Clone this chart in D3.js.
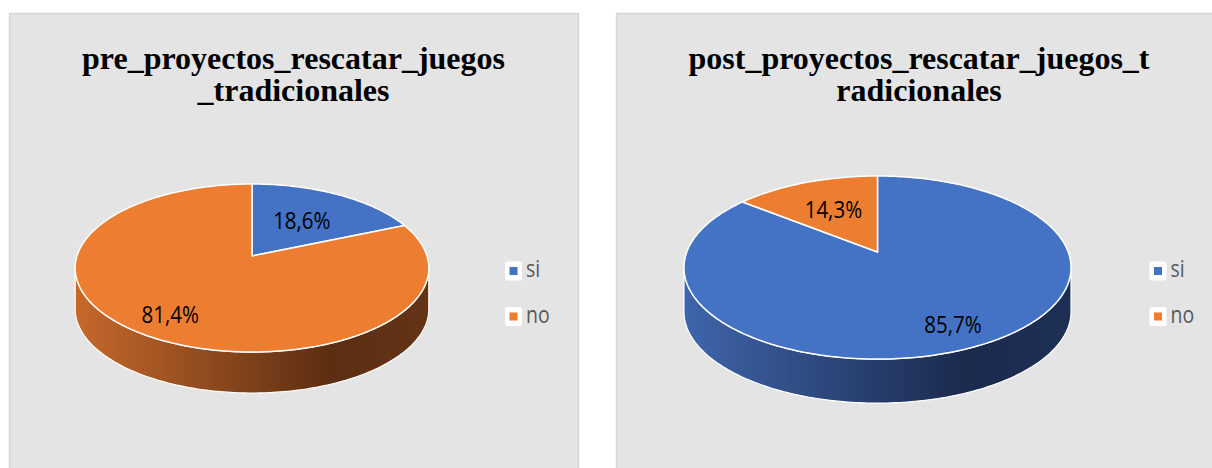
<!DOCTYPE html>
<html>
<head>
<meta charset="utf-8">
<script src="https://cdn.jsdelivr.net/npm/d3@7"></script>
<style>
  html, body { margin: 0; padding: 0; background: #ffffff; }
  svg { display: block; }
</style>
</head>
<body>
<svg id="chart" width="1212" height="468"></svg>
<script>
// ---- data ----
const categories = ["si", "no"];
const preValues = [18.6, 81.4];
const postValues = [85.7, 14.3];
const preTitle = ["pre_proyectos_rescatar_juegos", "_tradicionales"];
const postTitle = ["post_proyectos_rescatar_juegos_t", "radicionales"];
const seriesColors = ["#4472c4", "#ed7d31"];

// ---- layout / style ----
const panels = [
  { values: preValues, title: preTitle, x: 9, w: 569, titleX: 293.5,
    cx: 252, cy: 256, rx: 175, ry: 82.3, k: 0.143, h: 41,
    labelR: [0.55, 0.77], legendX: 513.5 },
  { values: postValues, title: postTitle, x: 616, w: 606, titleX: 919,
    cx: 877.5, cy: 252, rx: 190.7, ry: 88.9, k: 0.17, h: 44,
    labelR: [0.8, 0.58], legendX: 1158 }
];
const sideStops = [
  [{o: 0, c: "#3f65ab"}, {o: 0.72, c: "#1b2b4e"}, {o: 1, c: "#1e2f55"}],
  [{o: 0, c: "#c7692b"}, {o: 0.72, c: "#5c2e12"}, {o: 1, c: "#643416"}]
];

const locale = d3.formatLocale({decimal: ",", thousands: ".", grouping: [3], currency: ["", ""]});
const fmt = v => locale.format(".1f")(v) + "%";

const svg = d3.select("#chart");
const defs = svg.append("defs");

panels.forEach((p, pi) => {
  const g = svg.append("g");
  g.append("rect")
    .attr("x", p.x + 0.5).attr("y", 13.5)
    .attr("width", p.w).attr("height", 470)
    .attr("fill", "#e4e4e4").attr("stroke", "#d6d6d6").attr("stroke-width", 1.5);

  const title = g.append("text")
    .attr("text-anchor", "middle")
    .attr("transform", `translate(${p.titleX},69)`)
    .attr("font-family", "'Liberation Serif', 'Times New Roman', serif")
    .attr("font-weight", "bold").attr("font-size", 32).attr("fill", "#000");
  p.title.forEach((line, i) => {
    title.append("tspan").attr("x", 0).attr("y", i * 32).text(line);
  });

  const proj = (theta, f, dy) => {
    const u = Math.sin(theta), v = -Math.cos(theta);
    const s = 1 / (1 - p.k * f * v);
    return [p.cx + p.rx * f * u * s, p.cy + p.ry * f * v * s + (dy || 0)];
  };
  const arcPts = (a0, a1, f, dy) => {
    const n = Math.max(2, Math.ceil(Math.abs(a1 - a0) / (Math.PI / 180)));
    return d3.range(n + 1).map(i => proj(a0 + (a1 - a0) * i / n, f, dy));
  };

  const arcs = d3.pie().sort(null).startAngle(0).endAngle(2 * Math.PI)(p.values);

  // gradients for side walls
  categories.forEach((c, ci) => {
    const grad = defs.append("linearGradient")
      .attr("id", `side-${pi}-${ci}`)
      .attr("gradientUnits", "userSpaceOnUse")
      .attr("x1", p.cx - p.rx * 1.02).attr("x2", p.cx + p.rx * 1.02)
      .attr("y1", 0).attr("y2", 0);
    sideStops[ci].forEach(s => grad.append("stop").attr("offset", s.o).attr("stop-color", s.c));
  });

  // visible front range
  const tA = Math.acos(-p.k), tB = 2 * Math.PI - Math.acos(-p.k);
  const line = d3.line();
  arcs.forEach((a, i) => {
    const s0 = Math.max(a.startAngle, tA), s1 = Math.min(a.endAngle, tB);
    if (s1 <= s0) return;
    const top = arcPts(s0, s1, 1, 0);
    const bot = arcPts(s1, s0, 1, p.h);
    g.append("path")
      .attr("d", line(top.concat(bot)) + "Z")
      .attr("fill", `url(#side-${pi}-${i})`)
      .attr("stroke", "#ffffff").attr("stroke-width", 1.2).attr("stroke-linejoin", "round");
  });

  // top faces
  arcs.forEach((a, i) => {
    const pts = [proj(0, 0)].concat(arcPts(a.startAngle, a.endAngle, 1, 0));
    g.append("path")
      .attr("d", line(pts) + "Z")
      .attr("fill", seriesColors[i])
      .attr("stroke", "#ffffff").attr("stroke-width", 1.5).attr("stroke-linejoin", "round");
  });

  // labels
  arcs.forEach((a, i) => {
    const mid = (a.startAngle + a.endAngle) / 2;
    const [lx, ly] = proj(mid, p.labelR[i], 0);
    g.append("text")
      .attr("transform", `translate(${lx},${ly}) scale(1,1.15)`)
      .attr("text-anchor", "middle").attr("dy", "0.36em")
      .attr("font-family", "'Open Sans', sans-serif").attr("font-size", 20.5)
      .attr("fill", "#000").text(fmt(a.data));
  });

  // legend
  categories.forEach((c, ci) => {
    const ly = 271 + ci * 45.5;
    g.append("rect").attr("x", p.legendX - 8.5).attr("y", ly - 9.5)
      .attr("width", 17).attr("height", 19).attr("rx", 2.5).attr("fill", "#ffffff");
    g.append("rect").attr("x", p.legendX - 4).attr("y", ly - 4)
      .attr("width", 8).attr("height", 8).attr("fill", seriesColors[ci]);
    g.append("text")
      .attr("transform", `translate(${p.legendX + 12.5},${ly + 6}) scale(1,1.2)`)
      .attr("font-family", "'Open Sans', sans-serif").attr("font-size", 19.5)
      .attr("fill", "#595959").text(c);
  });
});
</script>
</body>
</html>
